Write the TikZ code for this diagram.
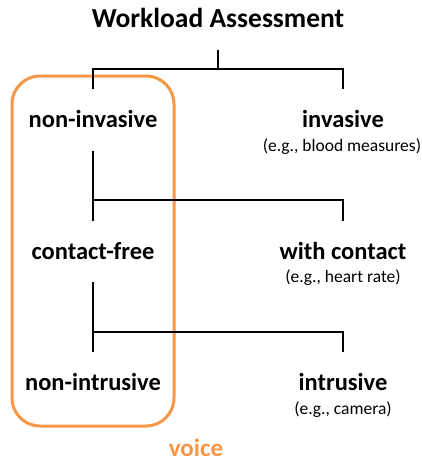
\documentclass[tikz,border=0pt]{standalone}
\usepackage{fontspec}
\setmainfont{Carlito}
\usepackage{tikz}
\usetikzlibrary{calc}
\definecolor{vorange}{HTML}{F79646}

\begin{document}
\begin{tikzpicture}[x=1pt,y=-1pt,
  title/.style={font=\bfseries\fontsize{27.5}{32}\selectfont,anchor=base,text height=15pt,text depth=0pt,inner ysep=23pt},
  lbl/.style={font=\bfseries\fontsize{24.5}{29}\selectfont,anchor=base,text height=15pt,text depth=0pt,inner ysep=23pt},
  note/.style={font=\fontsize{17.5}{21}\selectfont,anchor=base,inner sep=0pt},
  branch/.style={line width=1.8pt},
  every node/.style={inner xsep=0pt}]
  \useasboundingbox (0,0) rectangle (422,461);
  \draw[vorange,line width=3pt,rounded corners=28pt] (12,76) rectangle (174,426);
  \node[title] (root) at (218,27) {Workload Assessment};
  \node[lbl] (ninv) at (93,127.5) {non-invasive};
  \node[lbl] (inv) at (343,127.5) {invasive};
  \node[note] (invex) at (342,151) {(e.g., blood measures)};
  \node[lbl] (cfree) at (93,259) {contact-free};
  \node[lbl] (wcon) at (343,259) {with contact};
  \node[note] (wconex) at (343,282) {(e.g., heart rate)};
  \node[lbl] (nint) at (93,390) {non-intrusive};
  \node[lbl] (intr) at (343,390) {intrusive};
  \node[note] (intrex) at (343,414) {(e.g., camera)};
  \node[font=\bfseries\fontsize{25}{30}\selectfont,text=vorange,anchor=base,inner sep=0pt] (voice) at (196,456) {voice};
  % forks
  \draw[branch] (root.south) -- ++(0,19) coordinate (fork1);
  \draw[branch] (ninv.north) |- (fork1) -| (inv.north);
  \coordinate (fork2) at ($(ninv.south)!0.7!(cfree.north)$);
  \draw[branch] (ninv.south) -- (cfree.north);
  \draw[branch] (fork2) -| (wcon.north);
  \coordinate (fork3) at ($(cfree.south)!0.714!(nint.north)$);
  \draw[branch] (cfree.south) -- (nint.north);
  \draw[branch] (fork3) -| (intr.north);
\end{tikzpicture}
\end{document}
